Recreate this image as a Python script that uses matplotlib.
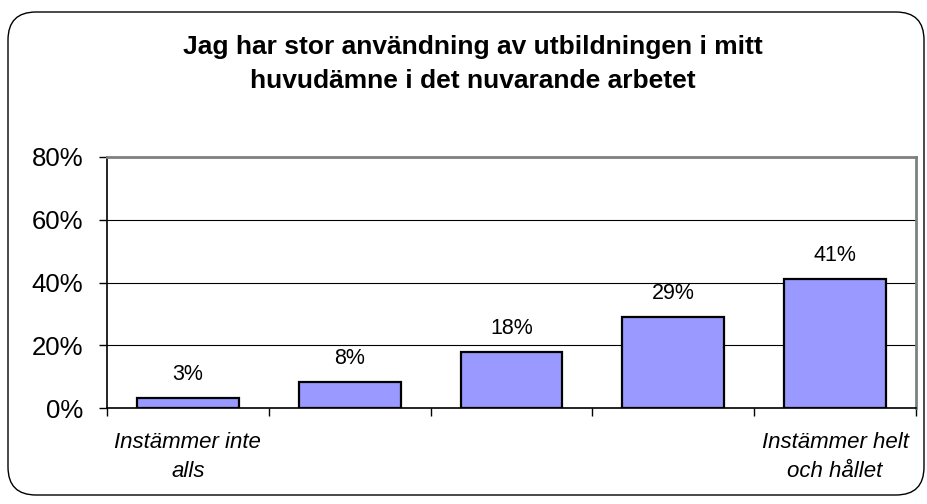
import numpy as np
import matplotlib
matplotlib.use("Agg")
import matplotlib.pyplot as plt
from matplotlib.patches import FancyBboxPatch

plt.rcParams['font.family'] = ['Liberation Sans', 'DejaVu Sans']

# Data
categories = ['Instämmer inte\nalls', '', '', '', 'Instämmer helt\noch hållet']
values = [3.3, 8.4, 17.7, 29.1, 41.0]
value_labels = ['3%', '8%', '18%', '29%', '41%']
yticks = [0, 20, 40, 60, 80]
ytick_labels = ['0%', '20%', '40%', '60%', '80%']
title = 'Jag har stor användning av utbildningen i mitt\nhuvudämne i det nuvarande arbetet'

W, H = 928, 504
fig = plt.figure(figsize=(W / 100, H / 100), dpi=100)

# rounded frame around the whole chart, drawn in pixel coordinates
bg = fig.add_axes([0, 0, 1, 1])
bg.set_xlim(0, W)
bg.set_ylim(H, 0)
bg.axis('off')
frame = FancyBboxPatch((8, 12), 916, 483, boxstyle='round,pad=0,rounding_size=28',
                       fc='white', ec='black', lw=1.0)
bg.add_patch(frame)

ax = fig.add_axes([107 / W, 1 - 408 / H, (916 - 107) / W, (408 - 157) / H])
ax.set_facecolor('none')

x = np.arange(len(values))
ax.bar(x, values, width=0.63, color='#9999ff', edgecolor='black', linewidth=1.6, zorder=3)

for xi, v, lab in zip(x, values, value_labels):
    ax.annotate(lab, (xi, v), xytext=(0, 17), textcoords='offset points',
                ha='center', va='center', fontsize=15.5)

ax.set_xlim(-0.5, len(values) - 0.5)
ax.set_ylim(0, 80)
ax.set_yticks(yticks)
ax.set_yticklabels(ytick_labels, fontsize=18.5)
ax.yaxis.grid(True, color='black', linewidth=0.8, zorder=0)
ax.tick_params(axis='y', direction='out', length=6, width=1, pad=11)

# category labels centred under bars, tick marks between categories
ax.set_xticks(np.arange(len(values) + 1) - 0.5)
ax.set_xticklabels([])
ax.tick_params(axis='x', direction='out', length=6, width=1)
for xi, c in zip(x, categories):
    if c:
        ax.annotate(c, (xi, 0), xytext=(0, -17), textcoords='offset points',
                    ha='center', va='top', fontsize=16, style='italic', linespacing=1.5)

for s in ['left', 'bottom']:
    ax.spines[s].set_color('black')
    ax.spines[s].set_linewidth(1.2)
for s in ['top', 'right']:
    ax.spines[s].set_color('#808080')
    ax.spines[s].set_linewidth(2)

fig.text(473 / W, 1 - 64 / H, title, ha='center', va='center', fontsize=19,
         fontweight='bold', linespacing=1.5)

fig.savefig('out.png', dpi=100)
